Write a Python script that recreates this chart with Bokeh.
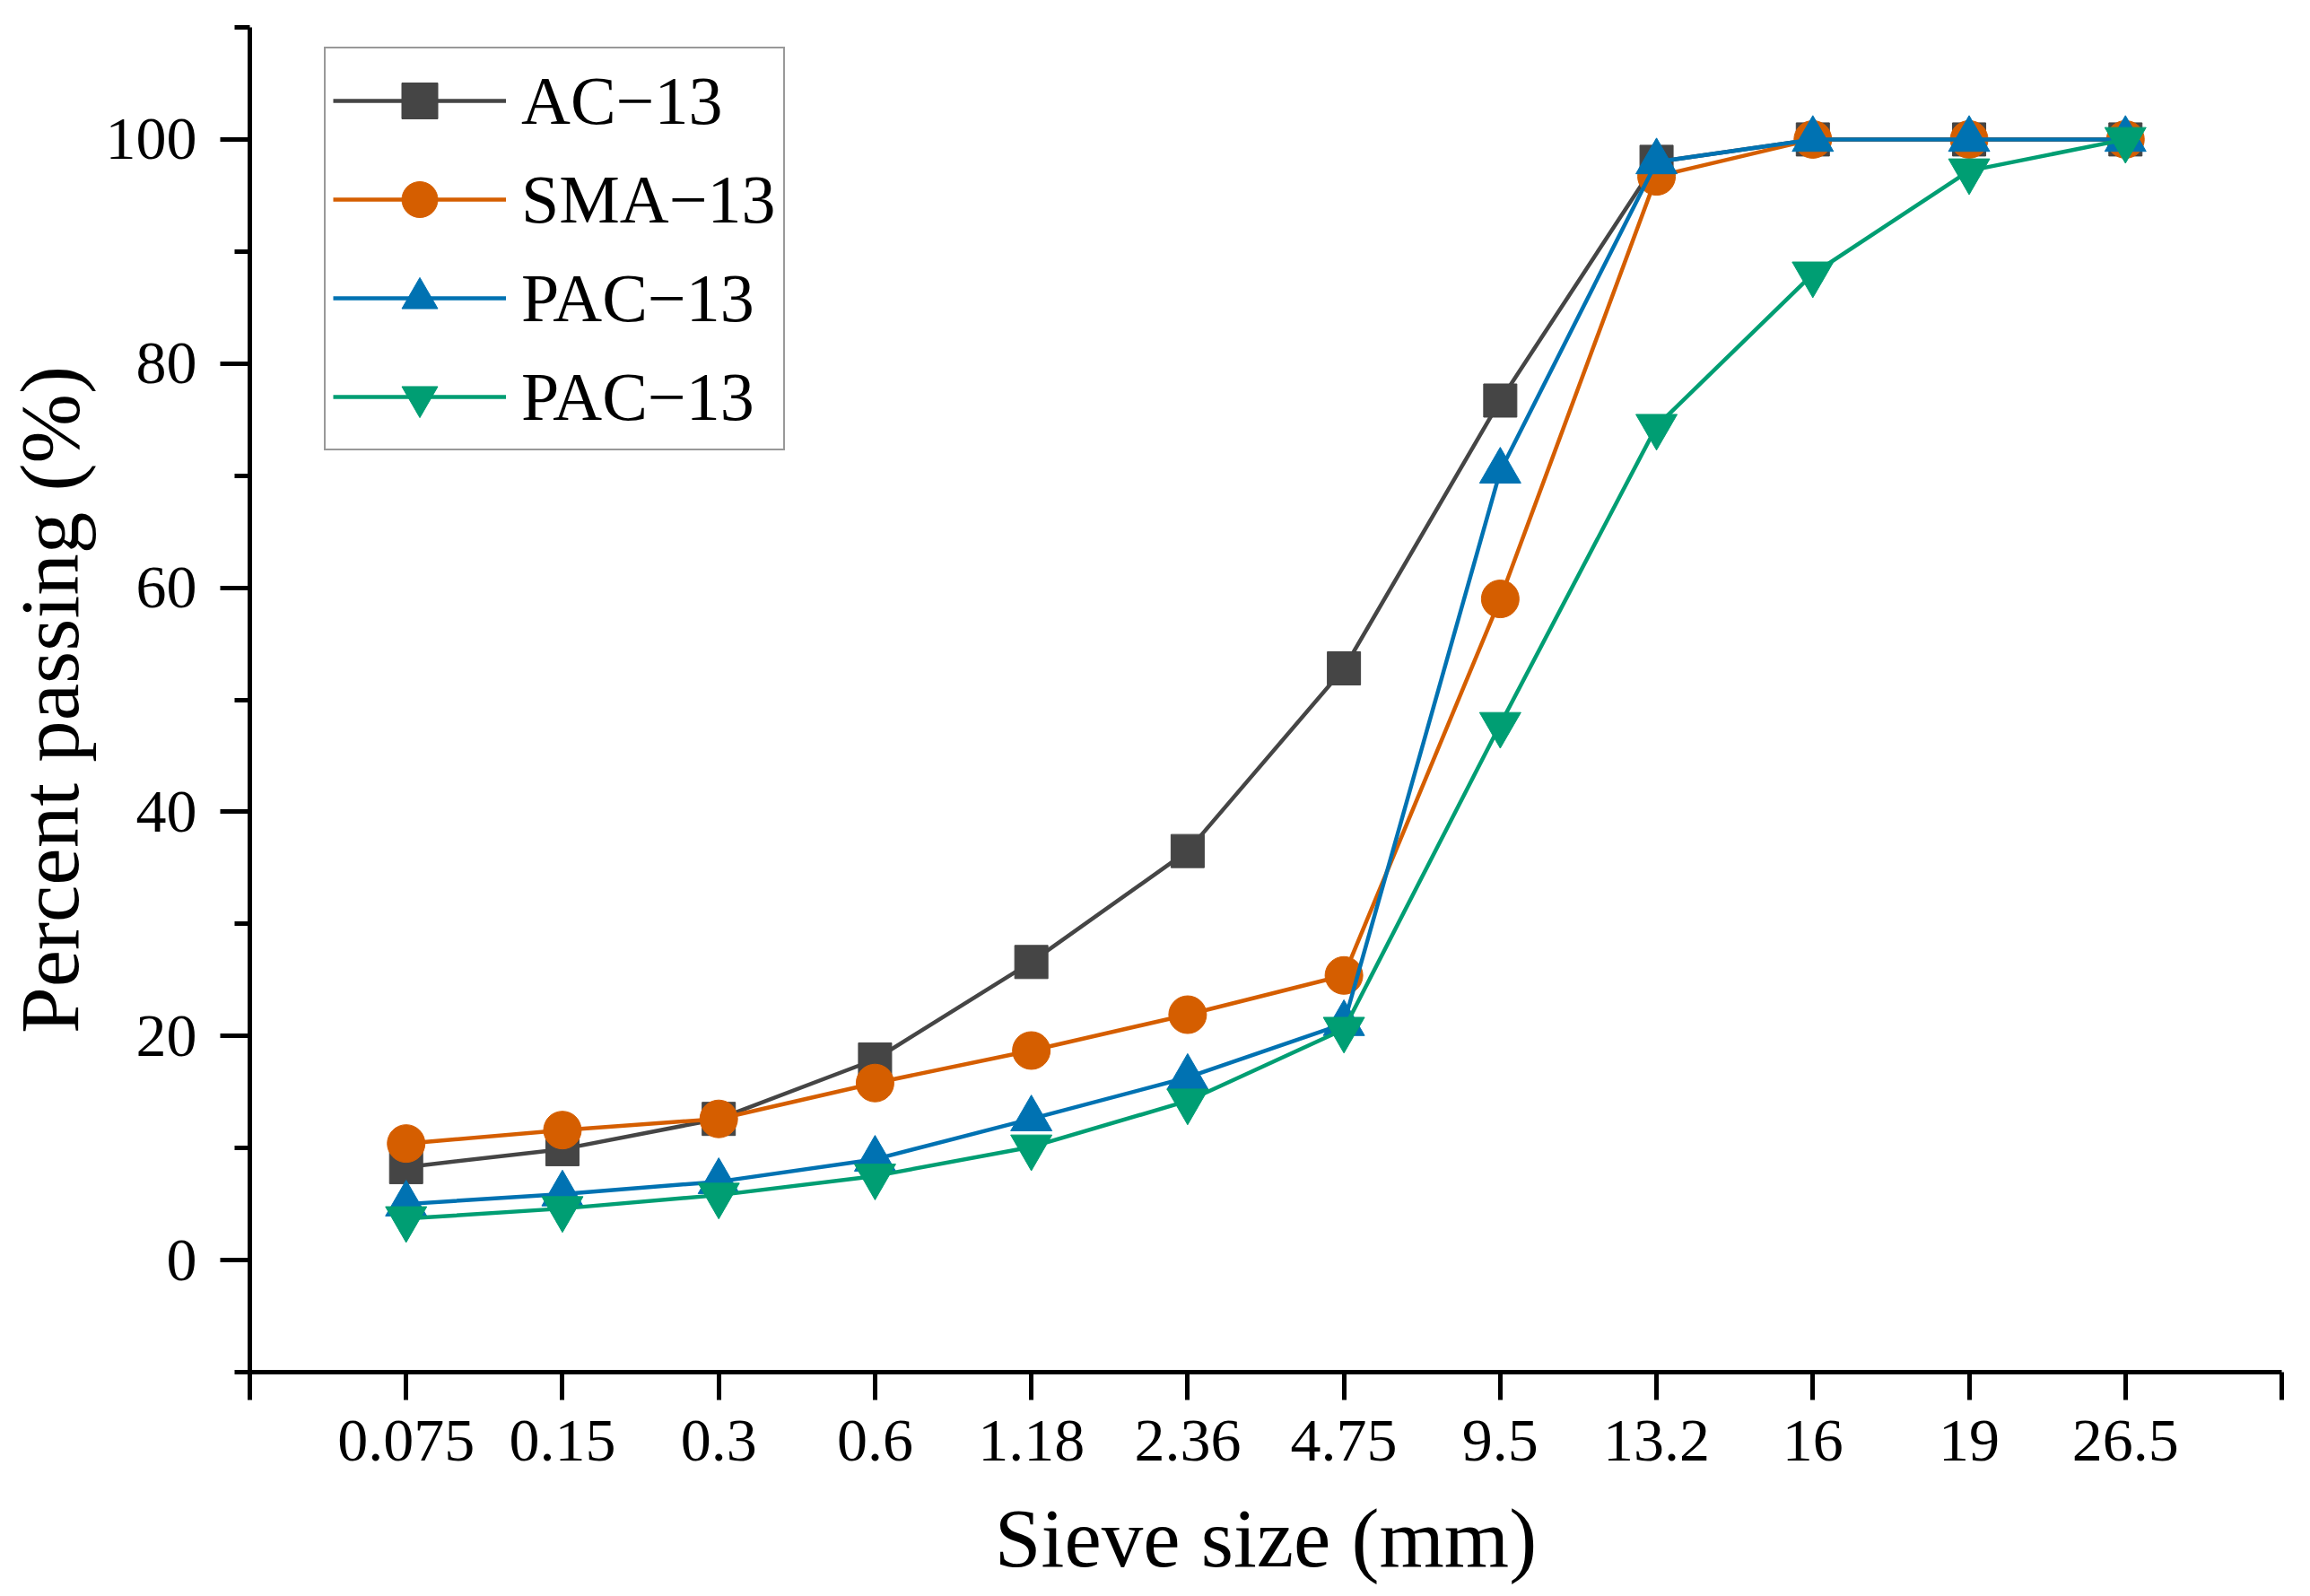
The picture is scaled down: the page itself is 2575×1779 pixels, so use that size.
from bokeh.plotting import figure
from bokeh.models import (FixedTicker, SingleIntervalTicker, Legend, LegendItem,
                          Range1d, ColumnDataSource)
from bokeh.embed import file_html
from bokeh.resources import INLINE

sieve_labels = ["0.075", "0.15", "0.3", "0.6", "1.18", "2.36", "4.75",
                "9.5", "13.2", "16", "19", "26.5"]
ac13 = [8.3, 9.9, 12.6, 17.9, 26.6, 36.5, 52.8, 76.7, 98.0, 100, 100, 100]
sma13 = [10.4, 11.6, 12.6, 15.8, 18.7, 21.9, 25.4, 59.0, 96.7, 100, 100, 100]
pac13_a = [5.0, 5.9, 7.0, 9.0, 12.6, 16.3, 21.1, 70.4, 98.0, 100, 100, 100]
pac13_b = [3.7, 4.6, 5.8, 7.5, 10.1, 14.2, 20.6, 47.8, 74.4, 88.0, 97.2, 100]
series_names = ["AC\u221213", "SMA\u221213", "PAC\u221213", "PAC\u221213"]
x_title = "Sieve size (mm)"
y_title = "Percent passing (%)"

FONT = "Liberation Serif"
positions = list(range(1, len(sieve_labels) + 1))

W, H = 2559, 1771
BL, BR, BT, BB = 268, 16, 30, 242
p = figure(width=W, height=H, x_range=Range1d(0, len(sieve_labels) + 1),
           y_range=Range1d(-10, 110), output_backend="svg", toolbar_location=None,
           min_border_left=BL, min_border_right=BR, min_border_top=BT,
           min_border_bottom=BB)
p.xgrid.visible = False
p.ygrid.visible = False
p.outline_line_color = None
p.background_fill_color = "white"
p.border_fill_color = "white"

styles = [
    dict(color="#454545", marker="square", size=37),
    dict(color="#D55E00", marker="circle", size=42),
    dict(color="#0072B2", marker="triangle", size=46),
    dict(color="#009E73", marker="inverted_triangle", size=46),
]
items = []
for name, vals, st in zip(series_names, [ac13, sma13, pac13_a, pac13_b], styles):
    src = ColumnDataSource(dict(x=positions, y=vals))
    ln = p.line("x", "y", source=src, line_color=st["color"], line_width=4.5)
    sc = p.scatter("x", "y", source=src, marker=st["marker"], size=st["size"],
                   fill_color=st["color"], line_color=st["color"])
    items.append(LegendItem(label=name, renderers=[ln, sc]))

legend = Legend(items=items, location=(83, 1027))
legend.label_text_font = FONT
legend.label_text_font_size = "76px"
legend.label_text_color = "black"
legend.glyph_width = 193
legend.glyph_height = 100
legend.label_height = 100
legend.spacing = 10
legend.padding = 8
legend.margin = 0
legend.label_standoff = 17
legend.border_line_color = "#333333"
legend.border_line_width = 2
legend.background_fill_alpha = 1
p.add_layout(legend)

# x axis
p.xaxis.ticker = FixedTicker(ticks=list(range(0, len(sieve_labels) + 2)), minor_ticks=[])
overrides = {0: "", len(sieve_labels) + 1: ""}
for pos, lab in zip(positions, sieve_labels):
    overrides[pos] = lab
p.xaxis.major_label_overrides = overrides
p.xaxis.axis_label = x_title

# y axis
p.yaxis.ticker = SingleIntervalTicker(interval=20, num_minor_ticks=2)
p.yaxis.axis_label = y_title

for ax in (p.xaxis[0], p.yaxis[0]):
    ax.axis_line_width = 5
    ax.axis_line_color = "black"
    ax.major_tick_line_width = 5
    ax.major_tick_line_color = "black"
    ax.minor_tick_line_width = 5
    ax.minor_tick_line_color = "black"
    ax.major_tick_in = 0
    ax.minor_tick_in = 0
    ax.major_label_text_font = FONT
    ax.major_label_text_font_size = "68px"
    ax.major_label_text_color = "black"
    ax.axis_label_text_font = FONT
    ax.axis_label_text_font_size = "93px"
    ax.axis_label_text_font_style = "normal"
    ax.axis_label_text_color = "black"

p.xaxis.major_tick_out = 31
p.xaxis.minor_tick_out = 0
p.xaxis.major_label_standoff = 23
p.xaxis.axis_label_standoff = 32
p.yaxis.major_tick_out = 33
p.yaxis.minor_tick_out = 17
p.yaxis.major_label_standoff = 26
p.yaxis.axis_label_standoff = 8

open("out.html", "w").write(file_html(p, INLINE))
